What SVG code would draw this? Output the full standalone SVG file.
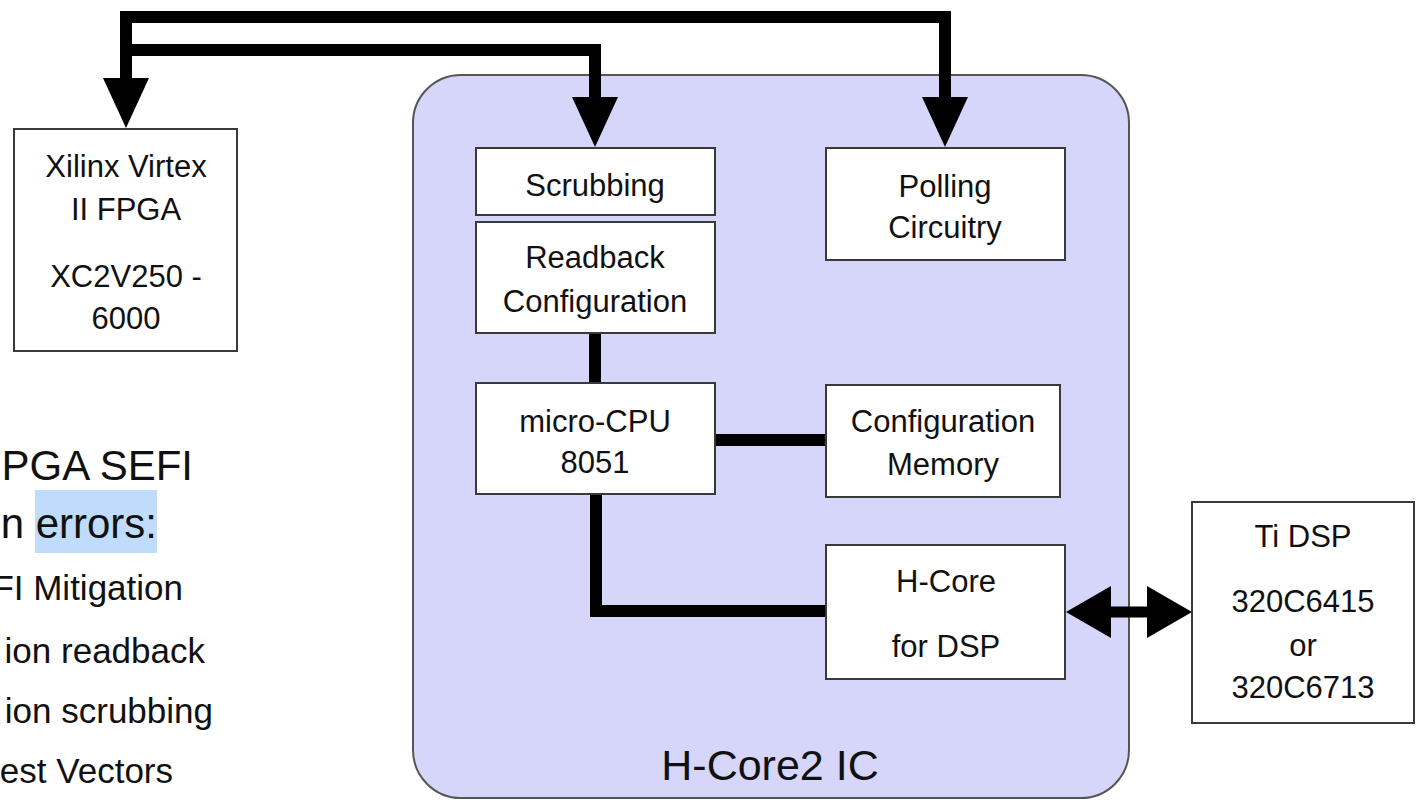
<svg xmlns="http://www.w3.org/2000/svg" width="1416" height="803" viewBox="0 0 1416 803">
<style>
  .box { fill: #ffffff; stroke: #3a3a3a; stroke-width: 2; }
  .t { font-family: "Liberation Sans", Arial, sans-serif; font-size: 31px; fill: #111; text-anchor: middle; }
  .side { font-family: "Liberation Sans", Arial, sans-serif; fill: #111; text-anchor: end; }
  .big { font-size: 42px; }
  .mid { font-size: 35px; }
  .title { font-size: 43px; }
  .bus { fill: none; stroke: #000; stroke-width: 12; stroke-linejoin: miter; stroke-linecap: butt; }
</style>
<defs>
  <marker id="arr" viewBox="0 0 50 46" markerWidth="50" markerHeight="46" refX="0" refY="23" orient="auto-start-reverse" markerUnits="userSpaceOnUse">
    <path d="M0,0 L50,23 L0,46 Z" fill="#000"/>
  </marker>
  <marker id="arr2" viewBox="0 0 45 52" markerWidth="45" markerHeight="52" refX="0" refY="26" orient="auto-start-reverse" markerUnits="userSpaceOnUse">
    <path d="M0,0 L45,26 L0,52 Z" fill="#000"/>
  </marker>
</defs>
<rect width="1416" height="803" fill="#ffffff"/>

<g id="left-text">
  <text class="side big" x="193" y="480">PGA SEFI</text>
  <rect x="35" y="490" width="122" height="63" fill="#bfdcfd"/>
  <text class="side big" x="157" y="538">n errors:</text>
  <text class="side mid" x="183" y="600">FI Mitigation</text>
  <text class="side mid" x="205" y="663">ion readback</text>
  <text class="side mid" x="213" y="723">ion scrubbing</text>
  <text class="side mid" x="173" y="783">est Vectors</text>
</g>

<g id="hcore2-ic">
  <rect x="413" y="75" width="716" height="723" rx="48" ry="48" fill="#d6d6fb" stroke="#555" stroke-width="2"/>
  <text class="t title" x="770" y="780">H-Core2 IC</text>
</g>

<g id="connectors">
  <path class="bus" d="M126,78 V17 H945 V97" marker-start="url(#arr)" marker-end="url(#arr)"/>
  <path class="bus" d="M126,50 H595 V97" marker-end="url(#arr)"/>
  <path class="bus" d="M595,333 V383"/>
  <path class="bus" d="M715,440 H827"/>
  <path class="bus" d="M596,494 V611 H827"/>
  <path class="bus" style="stroke-width:11" d="M1111,612 H1147" marker-start="url(#arr2)" marker-end="url(#arr2)"/>
</g>

<g id="xilinx">
  <rect class="box" x="14" y="129" width="223" height="222"/>
  <text class="t" x="126" y="177">Xilinx Virtex</text>
  <text class="t" x="126" y="220">II FPGA</text>
  <text class="t" x="126" y="287">XC2V250 -</text>
  <text class="t" x="126" y="329">6000</text>
</g>

<g id="scrubbing">
  <rect class="box" x="476" y="148" width="239" height="67"/>
  <text class="t" x="595" y="196">Scrubbing</text>
</g>

<g id="readback">
  <rect class="box" x="476" y="222" width="239" height="111"/>
  <text class="t" x="595" y="268">Readback</text>
  <text class="t" x="595" y="312">Configuration</text>
</g>

<g id="polling">
  <rect class="box" x="826" y="148" width="239" height="112"/>
  <text class="t" x="945" y="197">Polling</text>
  <text class="t" x="945" y="238">Circuitry</text>
</g>

<g id="micro-cpu">
  <rect class="box" x="476" y="383" width="239" height="111"/>
  <text class="t" x="595" y="432">micro-CPU</text>
  <text class="t" x="595" y="473">8051</text>
</g>

<g id="config-memory">
  <rect class="box" x="826" y="385" width="234" height="112"/>
  <text class="t" x="943" y="432">Configuration</text>
  <text class="t" x="943" y="475">Memory</text>
</g>

<g id="hcore-dsp">
  <rect class="box" x="826" y="545" width="239" height="134"/>
  <text class="t" x="946" y="592">H-Core</text>
  <text class="t" x="946" y="657">for DSP</text>
</g>

<g id="ti-dsp">
  <rect class="box" x="1192" y="502" width="222" height="221"/>
  <text class="t" x="1303" y="547">Ti DSP</text>
  <text class="t" x="1303" y="612">320C6415</text>
  <text class="t" x="1303" y="656">or</text>
  <text class="t" x="1303" y="698">320C6713</text>
</g>
</svg>
